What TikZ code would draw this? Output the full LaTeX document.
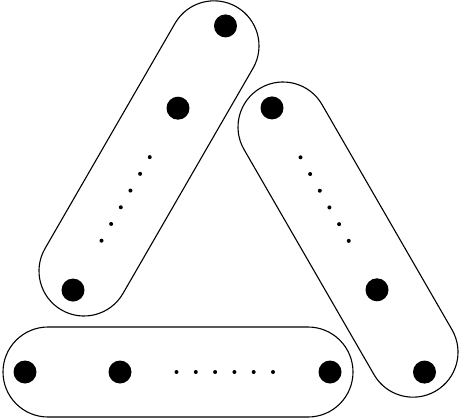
\documentclass[tikz,border=0pt]{standalone}
\usepackage{tikz}
\usetikzlibrary{positioning, calc}

\begin{document}
\begin{tikzpicture}[
    x=1pt, y=1pt,
    band/.style={
        draw=black,
        line width=1.1pt,
        rounded corners=45pt
    },
    bigdot/.style={
        circle,
        fill=black,
        inner sep=0pt,
        minimum size=23pt
    },
    smalldot/.style={
        circle,
        fill=black,
        inner sep=0pt,
        minimum size=4pt
    }
]
    \useasboundingbox (0,0) rectangle (462,418);

    % Three bands, each turned by -120 degrees from the one before
    \foreach \name/\sx/\sy/\ang in {bottom/308/46/180, left/84/147/60, right/283/291/-60} {
        \begin{scope}[shift={(\sx,\sy)}, rotate=\ang]
            \draw[band] (-45,-45) rectangle (305,45);

            % Big dots
            \node[bigdot] (\name-first) at (-22,0) {};
            \node[bigdot] (\name-mid) at (188,0) {};
            \node[bigdot] (\name-last) at (283,0) {};

            % Small dots
            \foreach \k in {0,...,5}
                \node[smalldot] (\name-dot\k) at ({35+19.3*\k},0) {};
        \end{scope}
    }
\end{tikzpicture}
\end{document}
